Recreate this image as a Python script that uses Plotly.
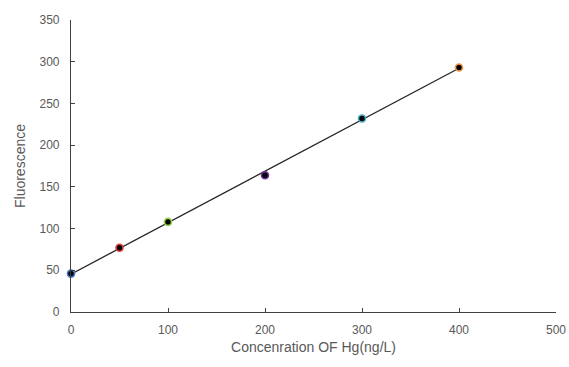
import numpy as np
import plotly.graph_objects as go

concentration = [0, 50, 100, 200, 300, 400]
fluorescence = [46, 77, 108, 164, 232, 293]
outline_colors = ["#4472C4", "#E0403A", "#92D050", "#7030A0", "#4BACC6", "#F79646"]
x_ticks = [0, 100, 200, 300, 400, 500]
y_ticks = [0, 50, 100, 150, 200, 250, 300, 350]

slope, intercept = np.polyfit(concentration, fluorescence, 1)
fit_x = [min(concentration), max(concentration)]
fit_y = [slope * v + intercept for v in fit_x]

fig = go.Figure()
fig.add_trace(go.Scatter(x=fit_x, y=fit_y, mode="lines",
                         line=dict(color="#262626", width=1.3), showlegend=False, hoverinfo="skip"))
fig.add_trace(go.Scatter(x=concentration, y=fluorescence, mode="markers", cliponaxis=False,
                         marker=dict(size=7, color="black",
                                     line=dict(color=outline_colors, width=1.6)),
                         showlegend=False))

font_color = "#595959"
fig.update_layout(
    width=569, height=367,
    margin=dict(l=71, r=13, t=20, b=55),
    paper_bgcolor="white", plot_bgcolor="white",
    font=dict(family="Liberation Sans, Arial, sans-serif", color=font_color, size=12),
)
fig.update_xaxes(range=[0, 500], tickvals=x_ticks, ticks="inside", ticklen=4, tickcolor="#404040",
                 showline=True, linecolor="#404040", linewidth=1.2, showgrid=False, zeroline=False,
                 ticklabelstandoff=6, automargin=False,
                 title=dict(text="Concenration OF Hg(ng/L)", font=dict(size=14, color=font_color), standoff=6))
fig.update_yaxes(range=[0, 350], tickvals=y_ticks, ticks="inside", ticklen=4, tickcolor="#404040",
                 showline=True, linecolor="#404040", linewidth=1.2, showgrid=False, zeroline=False,
                 ticklabelstandoff=8, automargin=False,
                 title=dict(text="Fluorescence", font=dict(size=14, color=font_color), standoff=10))

fig.write_html("out.html", config={"displayModeBar": False},
               post_script="document.body.style.margin='0';document.body.style.overflow='hidden';")
